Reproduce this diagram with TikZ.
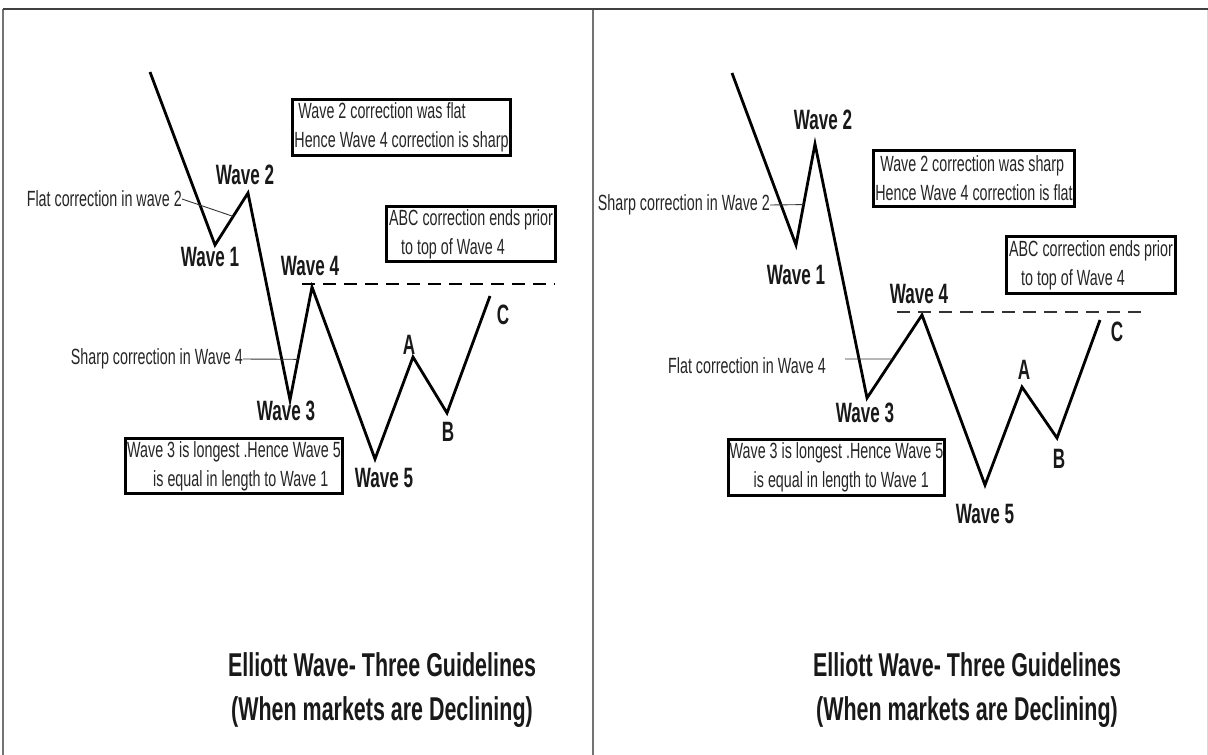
\documentclass[tikz,border=0pt]{standalone}
\usepackage{fontspec}
\setmainfont{Liberation Sans}
\newfontfamily\narrowfont[FakeStretch=0.65]{Liberation Sans}
\newfontfamily\narrowbold[FakeStretch=0.61]{Liberation Sans}
\usetikzlibrary{calc}

\begin{document}
\begin{tikzpicture}[
  x=1pt, y=-1pt,
  wave/.style={line width=2.8pt, line join=miter},
  wavelabel/.style={font=\narrowbold\bfseries\fontsize{28}{28}\selectfont,
                    inner sep=0pt, text=black!90},
  sidenote/.style={font=\narrowfont\fontsize{22}{29}\selectfont,
                   inner sep=0pt, anchor=east, text=black!85},
  notebox/.style={draw, line width=3.5pt, align=left, inner xsep=1pt,
                  inner ysep=0pt, text=black!85,
                  font=\narrowfont\fontsize{22}{29}\selectfont},
  leader/.style={line width=0.9pt, black!80},
  levelline/.style={line width=1.8pt, dash pattern=on 13pt off 8pt},
  frameline/.style={line width=1.3pt, black!55},
  heading/.style={font=\narrowfont\bfseries\fontsize{33}{44}\selectfont,
                  align=center, text=black!90},
]
  \useasboundingbox (0,0) rectangle (1208,755);
  \fill[white] (0,0) rectangle (1208,755);

  % frame
  \draw[frameline] (3,755) -- (3,9);
  \draw[frameline] (593,755) -- (593,9);
  \draw[line width=1pt, black!15] (1207,755) -- (1207,9);
  \draw[line width=1.8pt, black!75] (3,9) -- (1208,9);

  % left panel: flat wave 2, sharp wave 4
  \coordinate (ls)  at (150,72);
  \coordinate (lw1) at (215,245);
  \coordinate (lw2) at (248,193);
  \coordinate (lw3) at (290,400);
  \coordinate (lw4) at (312,287);
  \coordinate (lw5) at (375,459);
  \coordinate (la)  at (413,357);
  \coordinate (lb)  at (447,413);
  \coordinate (lc)  at (490,296);
  \draw[wave] (ls) -- (lw1) -- (lw2) -- (lw3) -- (lw4) -- (lw5)
              -- (la) -- (lb) -- (lc);

  \node[wavelabel] (lw1lbl) at (210,257) {Wave 1};
  \node[wavelabel] (lw2lbl) at (245,175) {Wave 2};
  \node[wavelabel] (lw3lbl) at (286,411) {Wave 3};
  \node[wavelabel] (lw4lbl) at (310,266) {Wave 4};
  \node[wavelabel] (lw5lbl) at (384,478) {Wave 5};
  \node[wavelabel] (lalbl)  at (409,345) {A};
  \node[wavelabel] (lblbl)  at (448,432) {B};
  \node[wavelabel] (lclbl)  at (503,315) {C};

  \coordinate (ltop) at (302,284);
  \coordinate (lend) at (555,284);
  \draw[levelline] (ltop) -- (lend);

  \node[sidenote] (lflat) at (182,199) {Flat correction in wave 2};
  \draw[leader] (lflat.east) -- ($(lw1)!0.55!(lw2)$);
  \node[sidenote] (lsharp) at (243,359) {Sharp correction in Wave 4};
  \draw[leader] (lsharp.east) -- ($(lw3)!0.36!(lw4)$);

  \node[notebox, minimum width=218, minimum height=56] (lnote1) at (401.5,127.5)
    {\hspace*{4pt}Wave 2 correction was flat\\Hence Wave 4 correction is sharp};
  \node[notebox, minimum width=169, minimum height=55] (lnote2) at (471,234)
    {ABC correction ends prior\\\hspace*{12pt}to top of Wave 4};
  \node[notebox, minimum width=217, minimum height=55] (lnote3) at (234,466)
    {Wave 3 is longest .Hence Wave 5\\\hspace*{26pt}is equal in length to Wave 1};

  \node[heading] (ltitle) at (382,690)
    {Elliott Wave- Three Guidelines\\(When markets are Declining)};

  % right panel: sharp wave 2, flat wave 4
  \coordinate (rs)  at (732,73);
  \coordinate (rw1) at (796,245);
  \coordinate (rw2) at (815,144);
  \coordinate (rw3) at (867,398);
  \coordinate (rw4) at (922,315);
  \coordinate (rw5) at (985,485);
  \coordinate (ra)  at (1022,387);
  \coordinate (rb)  at (1057,438);
  \coordinate (rc)  at (1100,320);
  \draw[wave] (rs) -- (rw1) -- (rw2) -- (rw3) -- (rw4) -- (rw5)
              -- (ra) -- (rb) -- (rc);

  \node[wavelabel] (rw1lbl) at (796,275) {Wave 1};
  \node[wavelabel] (rw2lbl) at (823,120) {Wave 2};
  \node[wavelabel] (rw3lbl) at (865,413) {Wave 3};
  \node[wavelabel] (rw4lbl) at (919,294) {Wave 4};
  \node[wavelabel] (rw5lbl) at (985,514) {Wave 5};
  \node[wavelabel] (ralbl)  at (1024,370) {A};
  \node[wavelabel] (rblbl)  at (1059,459) {B};
  \node[wavelabel] (rclbl)  at (1117,332) {C};

  \coordinate (rtop) at (897,312);
  \coordinate (rend) at (1145,312);
  \draw[levelline, line width=1.3pt, black!80] (rtop) -- (rend);

  \node[sidenote] (rsharp) at (770,205) {Sharp correction in Wave 2};
  \draw[leader] (rsharp.east) -- ($(rw1)!0.4!(rw2)$);
  \node[sidenote] (rflat) at (826,366) {Flat correction in Wave 4};
  \draw[leader] ([xshift=19pt,yshift=7pt]rflat.east) -- ($(rw3)!0.47!(rw4)$);

  \node[notebox, minimum width=201, minimum height=56] (rnote1) at (974,178.5)
    {\hspace*{5pt}Wave 2 correction was sharp\\Hence Wave 4 correction is flat};
  \node[notebox, minimum width=169, minimum height=57] (rnote2) at (1091,265)
    {ABC correction ends prior\\\hspace*{12pt}to top of Wave 4};
  \node[notebox, minimum width=216, minimum height=56] (rnote3) at (836.5,467.5)
    {Wave 3 is longest .Hence Wave 5\\\hspace*{24pt}is equal in length to Wave 1};

  \node[heading] (rtitle) at (967,690)
    {Elliott Wave- Three Guidelines\\(When markets are Declining)};
\end{tikzpicture}
\end{document}
